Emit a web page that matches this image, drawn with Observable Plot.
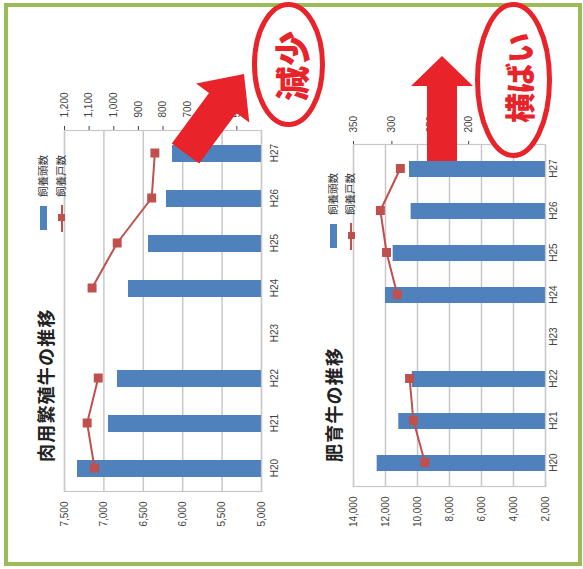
<!DOCTYPE html>
<html><head><meta charset="utf-8">
<script src="https://cdn.jsdelivr.net/npm/d3@7"></script>
<script src="https://cdn.jsdelivr.net/npm/@observablehq/plot@0.6"></script>
<style>
body{margin:0;width:583px;height:569px;overflow:hidden;background:#fff;font-family:"Noto Sans CJK JP",sans-serif;position:relative;}
#frame{position:absolute;left:4px;top:3px;width:578px;height:563px;box-sizing:border-box;border:4px solid #9bbb59;}
#rot{position:absolute;left:0;top:0;width:569px;height:583px;transform-origin:0 0;transform:translate(0,569px) rotate(-90deg);}
#rot svg{position:absolute;left:0;}
.abs{position:absolute;}
.title{font-weight:bold;font-size:18px;letter-spacing:1.2px;white-space:nowrap;line-height:1;color:#222;}
.leg{font-size:10.5px;white-space:nowrap;line-height:1;color:#333;}
#anno{position:absolute;left:0;top:0;}
</style></head>
<body>
<div id="frame"></div>
<div id="rot"></div>
<svg id="anno" width="583" height="569"></svg>
<script>
// ---- data ----
const years = ["H20","H21","H22","H23","H24","H25","H26","H27"];
const breedingTitle = "肉用繁殖牛の推移";
const breedingHead = [7335, 6942, 6828, null, 6688, 6434, 6206, 6129];
const breedingFarms = [1078, 1108, 1063, null, 1088, 986, 846, 833];
const breedingHeadTicks = [5000, 5500, 6000, 6500, 7000, 7500];
const breedingFarmDomain = [400, 1200];
const breedingFarmTicks = [500, 600, 700, 800, 900, 1000, 1100, 1200];
const fatteningTitle = "肥育牛の推移";
const fatteningHead = [12520, 11170, 10330, null, 12000, 11520, 10400, 10500];
const fatteningFarms = [257, 272, 277, null, 293, 307, 315, 289];
const fatteningHeadTicks = [2000, 4000, 6000, 8000, 10000, 12000, 14000];
const fatteningFarmDomain = [100, 350];
const fatteningFarmTicks = [150, 200, 250, 300, 350];
const legendBar = "飼養頭数";
const legendLine = "飼養戸数";
const noteDown = "減少";
const noteFlat = "横ばい";

const BLUE = "#4f81bd", RED = "#c0504d", GRID = "#c8c8c8";
const W = 569;
const fmt = d3.format(",");
const rot = document.getElementById("rot");

function drawChart(o) {
  const data = years.map((y, i) => ({year: y, head: o.head[i], farms: o.farms[i]}));
  const base = o.headTicks[0];
  const common = {
    width: W, height: o.height,
    marginTop: o.mt, marginBottom: o.mb, marginLeft: o.ml, marginRight: o.mr,
    style: {background: "transparent", fontSize: "10px", fontFamily: "'Liberation Sans', Arial, sans-serif", color: "#444", overflow: "visible"}
  };
  const xs = {type: "band", domain: years, paddingInner: o.pad, paddingOuter: o.pad / 2};
  const bars = Plot.plot({
    ...common,
    x: {...xs, tickSize: 0, tickPadding: o.catPad, label: null},
    y: {domain: [base, o.headTicks[o.headTicks.length - 1]], ticks: o.headTicks, tickFormat: fmt, tickSize: 0, tickPadding: o.leftPad, label: null},
    marks: [
      Plot.ruleY(o.headTicks, {stroke: GRID, strokeWidth: 1.5}),
      Plot.barY(data, {x: "year", y1: base, y2: "head", fill: BLUE}),
      Plot.frame({stroke: GRID, strokeWidth: 1.2})
    ]
  });
  const line = Plot.plot({
    ...common,
    x: {...xs, axis: null},
    y: {domain: o.farmDomain, ticks: o.farmTicks, tickFormat: fmt, axis: "right", tickSize: o.rTick, tickPadding: o.rightPad, label: null},
    marks: [
      Plot.lineY(data, {x: "year", y: "farms", stroke: RED, strokeWidth: 2}),
      Plot.dot(data, {x: "year", y: "farms", symbol: "square", fill: RED, stroke: RED, r: 4.2})
    ]
  });
  bars.style.top = o.top + "px";
  line.style.top = o.top + "px";
  rot.appendChild(bars);
  rot.appendChild(line);

  // title
  const t = document.createElement("div");
  t.className = "abs title";
  t.textContent = o.title;
  t.style.left = o.titleX + "px";
  t.style.top = (o.titleY - 9) + "px";
  rot.appendChild(t);

  // legend
  const L = o.legend;
  const sw = document.createElement("div");
  sw.className = "abs";
  Object.assign(sw.style, {left: L.x + "px", top: (L.y1 - 3.5) + "px", width: "24px", height: "7px", background: BLUE});
  rot.appendChild(sw);
  const ln = document.createElement("div");
  ln.className = "abs";
  Object.assign(ln.style, {left: (L.x - 2) + "px", top: (L.y2 - 1) + "px", width: "27px", height: "2px", background: RED});
  rot.appendChild(ln);
  const mk = document.createElement("div");
  mk.className = "abs";
  Object.assign(mk.style, {left: (L.x + 8.5) + "px", top: (L.y2 - 3.5) + "px", width: "7px", height: "7px", background: RED});
  rot.appendChild(mk);
  [[legendBar, L.y1], [legendLine, L.y2]].forEach(([s, y]) => {
    const d = document.createElement("div");
    d.className = "abs leg";
    d.textContent = s;
    d.style.left = (L.x + 33) + "px";
    d.style.top = (y - 6) + "px";
    rot.appendChild(d);
  });
}

drawChart({
  title: breedingTitle, head: breedingHead, farms: breedingFarms,
  headTicks: breedingHeadTicks, farmDomain: breedingFarmDomain, farmTicks: breedingFarmTicks,
  top: 0, height: 291, mt: 64, mb: 30, ml: 77, mr: W - 438,
  pad: 0.63, catPad: 9, leftPad: 10, rTick: 4, rightPad: 9,
  titleX: 107, titleY: 45,
  legend: {x: 339, y1: 43.5, y2: 61.5}
});
drawChart({
  title: fatteningTitle, head: fatteningHead, farms: fatteningFarms,
  headTicks: fatteningHeadTicks, farmDomain: fatteningFarmDomain, farmTicks: fatteningFarmTicks,
  top: 300, height: 275, mt: 53, mb: 30, ml: 82, mr: W - 424,
  pad: 0.626, catPad: 4, leftPad: 10, rTick: 3, rightPad: 9,
  titleX: 107, titleY: 333,
  legend: {x: 321, y1: 333.5, y2: 351}
});

// ---- annotations (arrows, ellipses) ----
const NS = "http://www.w3.org/2000/svg";
const anno = document.getElementById("anno");
function el(tag, attrs, text) {
  const e = document.createElementNS(NS, tag);
  for (const k in attrs) e.setAttribute(k, attrs[k]);
  if (text) e.textContent = text;
  anno.appendChild(e);
  return e;
}
const ARED = "#e8232a";
el("polygon", {points: "171.8,143.4 209,92.9 196.1,83.4 244,74 249.3,122.6 236.4,113.1 199.2,163.6", fill: ARED});
el("polygon", {points: "427,161 427,86 411,86 442,56 473,86 457,86 457,161", fill: ARED});
el("ellipse", {cx: 288.5, cy: 64.5, rx: 34, ry: 60, fill: "#fff", stroke: ARED, "stroke-width": 5});
el("ellipse", {cx: 513.5, cy: 80, rx: 36, ry: 75.5, fill: "#fff", stroke: ARED, "stroke-width": 5});
el("text", {x: 290, y: 66, transform: "rotate(-90 290 66)", "text-anchor": "middle", "dominant-baseline": "central",
  fill: ARED, "font-size": 35, "font-weight": 900, "font-family": "'Noto Sans CJK JP', sans-serif"}, noteDown);
el("text", {x: 518, y: 78, transform: "rotate(-90 518 78)", "text-anchor": "middle", "dominant-baseline": "central",
  fill: ARED, "font-size": 30, "font-weight": 900, "font-family": "'Noto Sans CJK JP', sans-serif"}, noteFlat);
</script>
</body></html>
